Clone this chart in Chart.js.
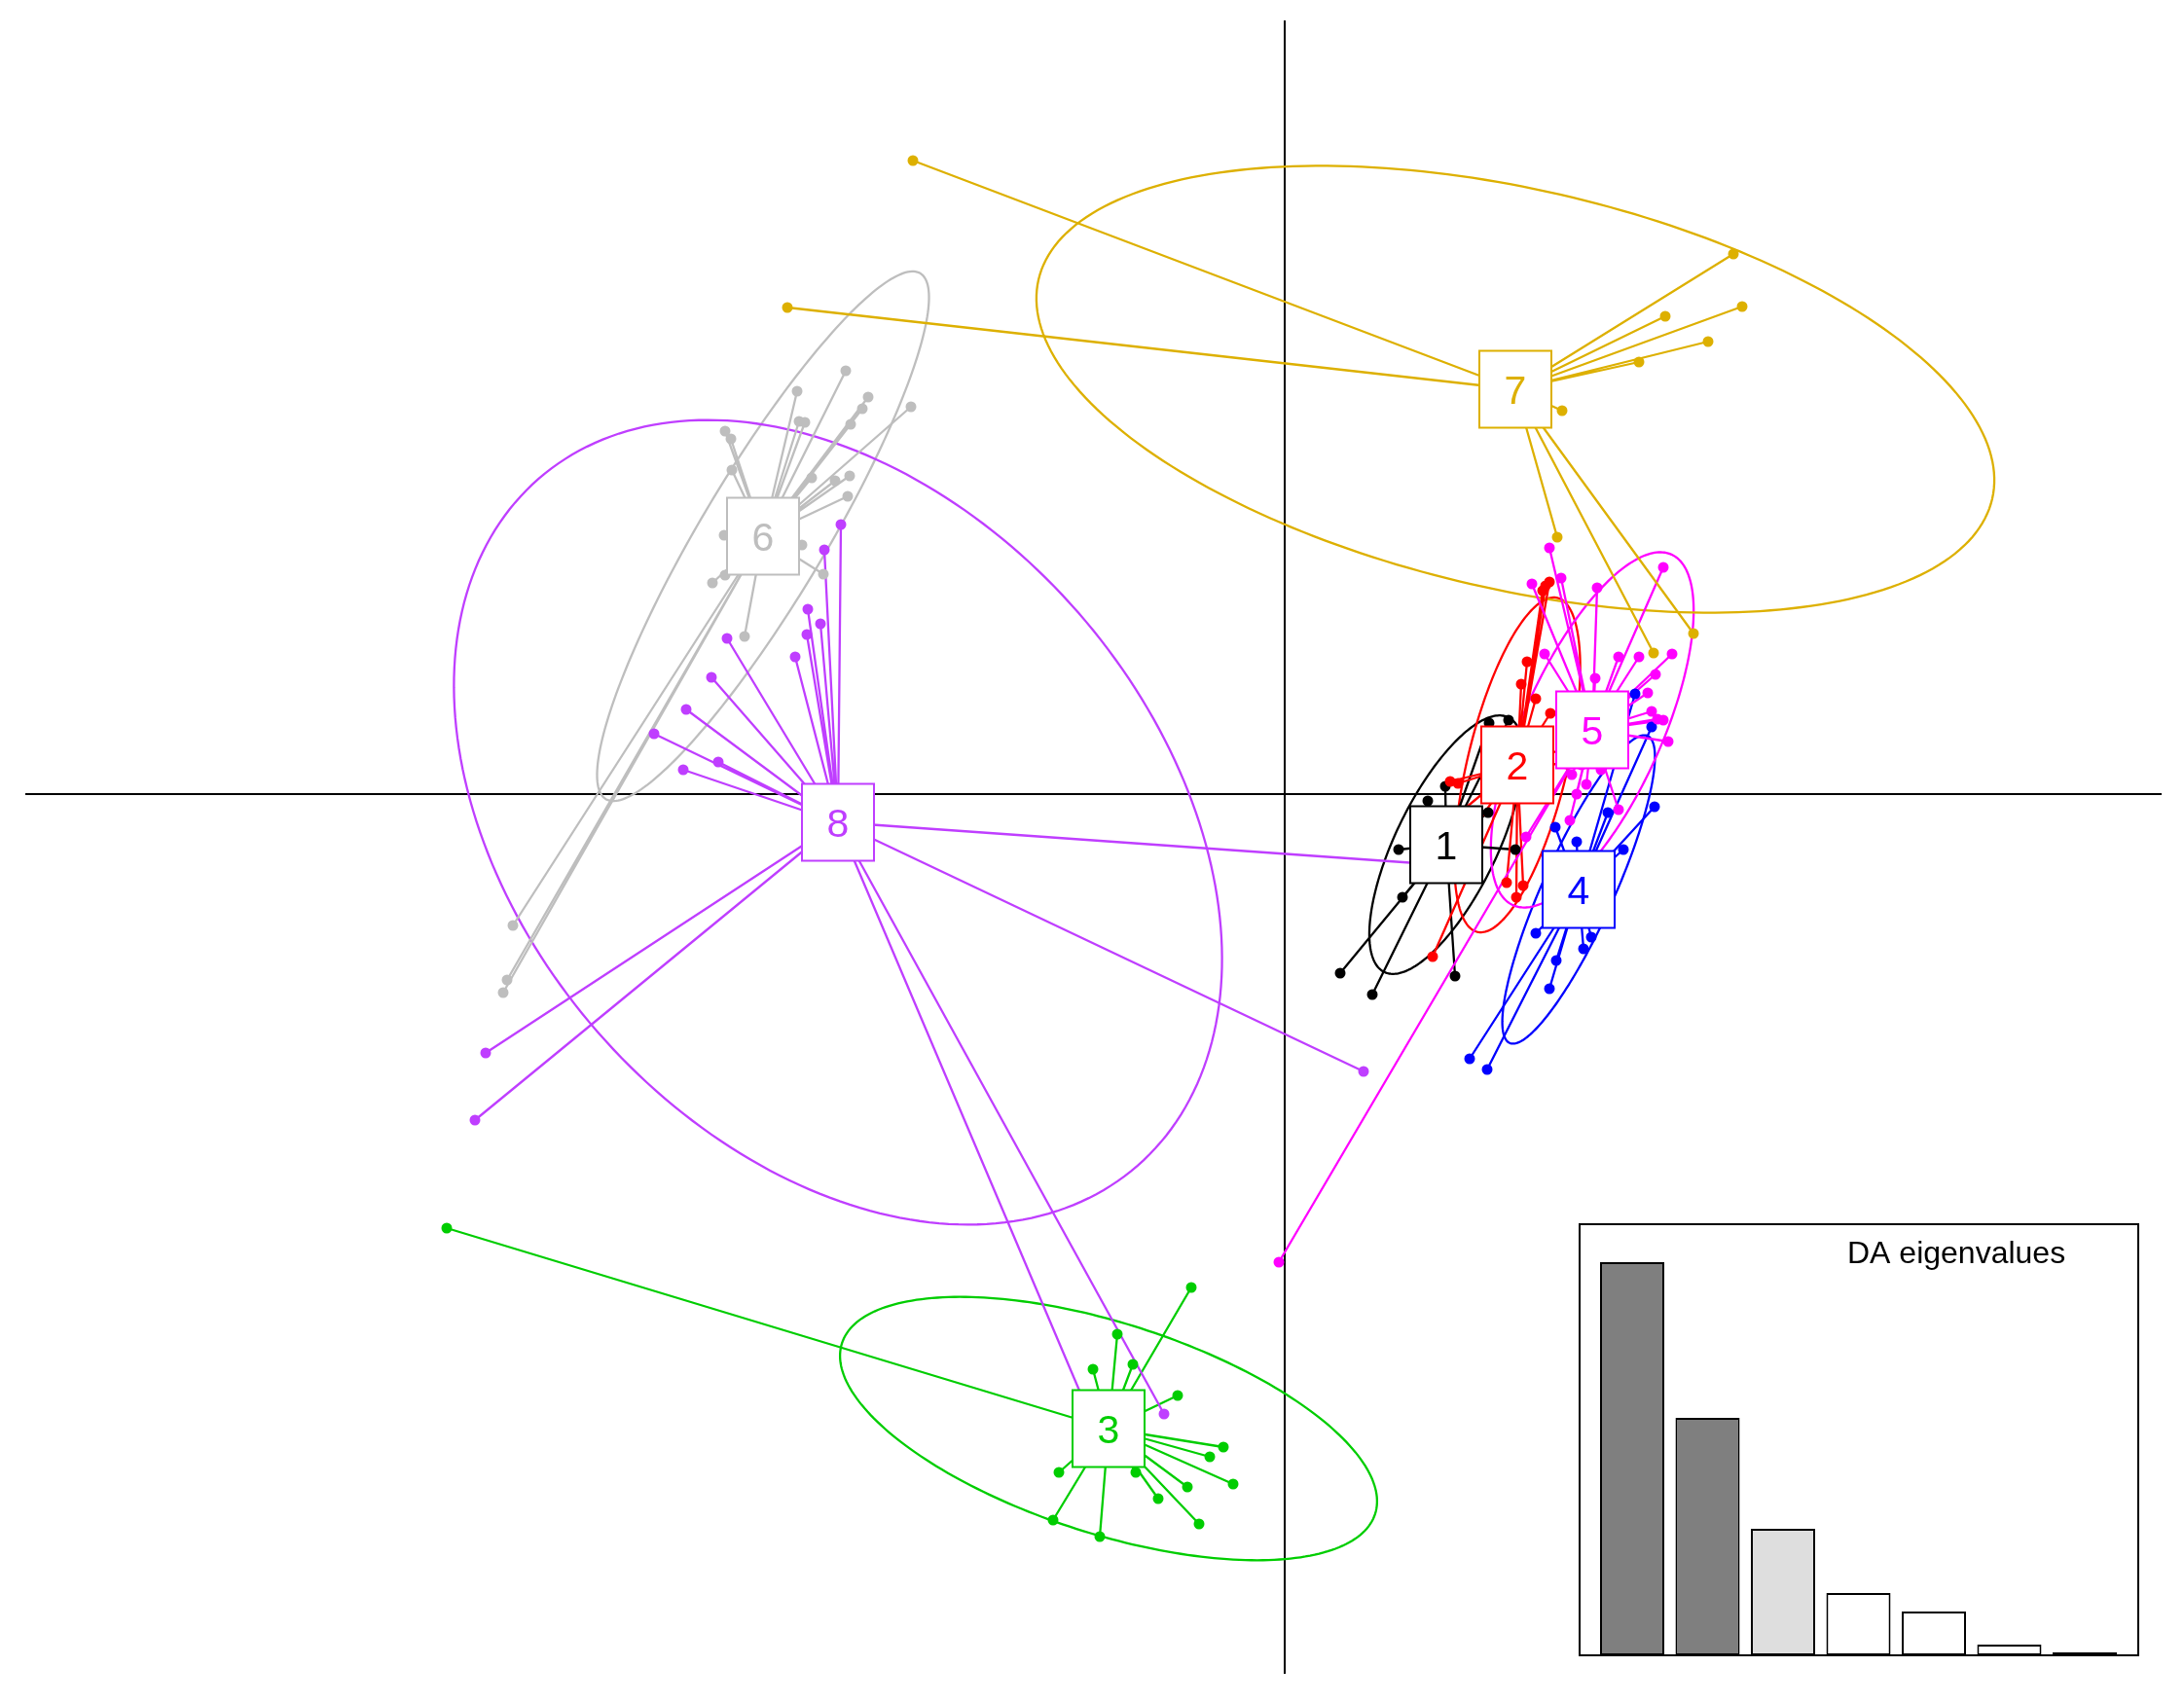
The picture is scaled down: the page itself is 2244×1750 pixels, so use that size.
<!DOCTYPE html>
<html>
<head>
<meta charset="utf-8">
<script src="https://cdn.jsdelivr.net/npm/chart.js@4.4.0/dist/chart.umd.min.js"></script>
<style>
  html, body { margin: 0; padding: 0; background: #ffffff; }
  #wrap { position: relative; width: 2244px; height: 1750px; overflow: hidden; }
  #main { position: absolute; left: 0; top: 0; width: 2244px; height: 1750px; }
  #inset { position: absolute; left: 1622px; top: 1257px; width: 576px; height: 445px; }
</style>
</head>
<body>
<div id="wrap">
  <canvas id="main" width="2244" height="1750"></canvas>
  <canvas id="inset" width="576" height="445"></canvas>
</div>
<script>
// ---------------- DATA ----------------
const groupLabels = ['1', '2', '3', '4', '5', '6', '7', '8'];

// Discriminant functions: LD1 (x) and LD2 (y) per individual, per group
const ld1_g1 = [0.57, 0.90, 1.75, 1.21, 1.17, 2.37, 2.09, 1.47, 2.10, 2.30, 1.65, 1.75, 1.90];
const ld2_g1 = [-1.84, -2.06, -1.87, -1.06, -0.57, -0.57, -0.19, -0.07, 0.73, 0.76, 0.08, -0.29, -0.34];

const ld1_g2 = [2.68, 2.72, 2.65, 2.49, 2.43, 2.58, 2.73, 1.70, 1.78, 1.52, 2.28, 2.38, 2.45, 1.85, 2.85, 1.80, 2.90];
const ld2_g2 = [2.14, 2.18, 2.09, 1.36, 1.13, 0.98, 0.83, 0.13, 0.11, -1.67, -0.91, -1.06, -0.94, -0.49, 0.46, -0.19, 0.31];

const ld1_g3 = [-8.61, -0.96, -1.72, -1.97, -1.56, -1.10, -0.63, -0.77, -0.53, -1.00, -1.53, -1.30, -0.88, -2.32, -2.38, -1.90];
const ld2_g3 = [-4.46, -5.07, -5.55, -5.91, -5.86, -6.18, -6.71, -6.81, -7.09, -7.12, -6.97, -7.24, -7.50, -6.97, -7.46, -7.63];

const ld1_g4 = [3.60, 3.77, 3.80, 3.32, 3.00, 3.48, 2.78, 2.58, 3.15, 3.07, 2.79, 2.72, 1.90, 2.08, 2.95, 3.10];
const ld2_g4 = [1.03, 0.69, -0.13, -0.19, -0.49, -0.57, -0.34, -1.43, -1.47, -1.59, -1.71, -2.00, -2.72, -2.83, -0.89, -1.09];

const ld1_g5 = [2.72, 2.54, 2.84, 3.21, 3.89, 2.67, 3.19, 3.43, 3.64, 3.98, 3.81, 3.73, 3.77, 3.83, 3.89, 3.94, 3.43, 2.93, 2.48, -0.06,
                2.90, 3.05, 3.20, 2.95, 3.10, 3.00, 3.30, 2.85, 3.25, 3.15, 3.10, 3.20, 3.05, 3.25];
const ld2_g5 = [2.53, 2.16, 2.22, 2.12, 2.33, 1.44, 1.19, 1.41, 1.41, 1.44, 1.23, 1.04, 0.85, 0.77, 0.76, 0.54, -0.16, -0.27, -0.44, -4.81,
                0.40, 0.30, 0.45, 0.20, 0.10, 0.00, 0.55, 0.60, 0.25, 0.50, 0.70, 0.62, 0.58, 0.72];

const ld1_g6 = [-4.51, -5.01, -4.28, -3.84, -4.34, -4.99, -4.93, -4.46, -5.75, -5.69, -4.86, -4.47, -4.62, -5.68, -4.49, -5.76, -4.96, -4.74, -5.75, -5.88, -5.55, -7.93, -7.99, -8.03];
const ld2_g6 = [4.35, 4.14, 4.08, 3.98, 3.96, 3.83, 3.82, 3.80, 3.73, 3.65, 3.25, 3.27, 3.22, 3.33, 3.06, 2.66, 2.56, 2.26, 2.25, 2.17, 1.62, -1.35, -1.91, -2.04];

const ld1_g7 = [-3.82, -5.11, 4.61, 4.70, 3.91, 4.35, 3.64, 2.85, 2.80, 3.79, 4.20];
const ld2_g7 = [6.51, 5.00, 5.55, 5.01, 4.91, 4.65, 4.44, 3.94, 2.64, 1.45, 1.65];

const ld1_g8 = [-4.56, -4.73, -4.90, -4.77, -4.91, -5.03, -5.73, -5.89, -6.15, -6.48, -5.82, -6.18, -8.21, -8.32, 0.81, -1.24, 1.50, -2.02];
const ld2_g8 = [2.77, 2.51, 1.90, 1.75, 1.64, 1.41, 1.60, 1.20, 0.87, 0.62, 0.33, 0.25, -2.66, -3.35, -2.85, -6.37, -0.72, -6.34];

// Group centroids (label positions)
const centroidLD1 = [1.66, 2.39, -1.81, 3.02, 3.16, -5.36, 2.37, -4.59];
const centroidLD2 = [-0.52, 0.30, -6.52, -0.98, 0.66, 2.65, 4.16, -0.29];

// Inset: DA eigenvalues
const eigLabels = ['1', '2', '3', '4', '5', '6', '7'];
const daEigenvalues = [40.4, 24.4, 13.0, 6.4, 4.5, 1.1, 0.3];

// ---------------- STYLE ----------------
const groupColors = ['#000000', '#FF0000', '#00CD00', '#0000FF', '#FF00FF', '#BEBEBE', '#DDB000', '#BF3EFF'];
const eigFill = ['#7F7F7F', '#7F7F7F', '#DEDEDE', '#FFFFFF', '#FFFFFF', '#FFFFFF', '#FFFFFF'];
const FONT = '"Liberation Sans", Arial, Helvetica, sans-serif';
const LINE_W = 2.3;

const groupLD1 = [ld1_g1, ld1_g2, ld1_g3, ld1_g4, ld1_g5, ld1_g6, ld1_g7, ld1_g8];
const groupLD2 = [ld2_g1, ld2_g2, ld2_g3, ld2_g4, ld2_g5, ld2_g6, ld2_g7, ld2_g8];

// Covariance ellipse (1.5 sd, like ade4::s.class cellipse = 1.5), in data units
function ellipseOf(xs, ys, cx, cy, k) {
  const n = xs.length;
  let vx = 0, vy = 0, cxy = 0;
  for (let i = 0; i < n; i++) {
    const dx = xs[i] - cx, dy = ys[i] - cy;
    vx += dx * dx; vy += dy * dy; cxy += dx * dy;
  }
  vx /= n; vy /= n; cxy /= n;
  const tr = vx + vy, det = vx * vy - cxy * cxy;
  const disc = Math.sqrt(Math.max(0, tr * tr / 4 - det));
  const l1 = tr / 2 + disc, l2 = Math.max(0, tr / 2 - disc);
  let ux, uy;
  if (Math.abs(cxy) > 1e-12) { ux = cxy; uy = l1 - vx; }
  else if (vx >= vy) { ux = 1; uy = 0; } else { ux = 0; uy = 1; }
  const nrm = Math.hypot(ux, uy); ux /= nrm; uy /= nrm;
  const a = k * Math.sqrt(l1), b = k * Math.sqrt(l2);
  const pts = [];
  for (let j = 0; j <= 240; j++) {
    const t = 2 * Math.PI * j / 240;
    const c = Math.cos(t), s = Math.sin(t);
    pts.push([cx + a * c * ux - b * s * uy, cy + a * c * uy + b * s * ux]);
  }
  return pts;
}

const dapcDeco = {
  id: 'dapcDeco',
  beforeDraw(chart) {
    const ctx = chart.ctx;
    ctx.save();
    ctx.fillStyle = '#ffffff';
    ctx.fillRect(0, 0, chart.width, chart.height);
    ctx.restore();
  },
  beforeDatasetsDraw(chart) {
    const { ctx, chartArea: a, scales: { x, y } } = chart;
    ctx.save();
    // axes through the origin
    ctx.strokeStyle = '#000000';
    ctx.lineWidth = 2;
    const x0 = x.getPixelForValue(0), y0 = y.getPixelForValue(0);
    ctx.beginPath();
    ctx.moveTo(a.left, y0); ctx.lineTo(a.right, y0);
    ctx.moveTo(x0, a.top); ctx.lineTo(x0, a.bottom);
    ctx.stroke();
    // ellipses
    ctx.lineWidth = LINE_W;
    for (let g = 0; g < groupLD1.length; g++) {
      const pts = ellipseOf(groupLD1[g], groupLD2[g], centroidLD1[g], centroidLD2[g], 1.5);
      ctx.strokeStyle = groupColors[g];
      ctx.beginPath();
      pts.forEach((p, i) => {
        const px = x.getPixelForValue(p[0]), py = y.getPixelForValue(p[1]);
        if (i === 0) ctx.moveTo(px, py); else ctx.lineTo(px, py);
      });
      ctx.closePath();
      ctx.stroke();
    }
    // stars: centroid -> each individual
    ctx.lineWidth = LINE_W;
    for (let g = 0; g < groupLD1.length; g++) {
      ctx.strokeStyle = groupColors[g];
      const cx = x.getPixelForValue(centroidLD1[g]), cy = y.getPixelForValue(centroidLD2[g]);
      ctx.beginPath();
      for (let i = 0; i < groupLD1[g].length; i++) {
        ctx.moveTo(cx, cy);
        ctx.lineTo(x.getPixelForValue(groupLD1[g][i]), y.getPixelForValue(groupLD2[g][i]));
      }
      ctx.stroke();
    }
    ctx.restore();
  },
  afterDatasetsDraw(chart) {
    const { ctx, scales: { x, y } } = chart;
    ctx.save();
    const bw = 74, bh = 79;
    for (let g = 0; g < groupLabels.length; g++) {
      const cx = x.getPixelForValue(centroidLD1[g]), cy = y.getPixelForValue(centroidLD2[g]);
      ctx.fillStyle = '#ffffff';
      ctx.fillRect(cx - bw / 2, cy - bh / 2, bw, bh);
      ctx.strokeStyle = groupColors[g];
      ctx.lineWidth = 2;
      ctx.strokeRect(cx - bw / 2, cy - bh / 2, bw, bh);
      ctx.fillStyle = groupColors[g];
      ctx.font = '41px ' + FONT;
      ctx.textAlign = 'center';
      ctx.textBaseline = 'alphabetic';
      ctx.fillText(groupLabels[g], cx, cy + 15);
    }
    ctx.restore();
  }
};

new Chart(document.getElementById('main'), {
  type: 'scatter',
  data: {
    datasets: groupLabels.map((lab, g) => ({
      label: lab,
      data: groupLD1[g].map((v, i) => ({ x: v, y: groupLD2[g][i] })),
      backgroundColor: groupColors[g],
      borderColor: groupColors[g],
      borderWidth: 0,
      pointRadius: 5.5,
      pointHoverRadius: 5.5
    })).reverse()
  },
  options: {
    responsive: false,
    animation: false,
    devicePixelRatio: 1,
    layout: { padding: { left: 26, top: 21, right: 23, bottom: 30 } },
    scales: {
      x: { type: 'linear', min: -12.94, max: 9.01, display: false },
      y: { type: 'linear', min: -9.04, max: 7.95, display: false }
    },
    plugins: { legend: { display: false }, tooltip: { enabled: false } },
    events: []
  },
  plugins: [dapcDeco]
});

const insetDeco = {
  id: 'insetDeco',
  beforeDraw(chart) {
    const ctx = chart.ctx;
    ctx.save();
    ctx.fillStyle = '#ffffff';
    ctx.fillRect(0, 0, chart.width, chart.height);
    ctx.restore();
  },
  afterDraw(chart) {
    const ctx = chart.ctx;
    ctx.save();
    ctx.strokeStyle = '#000000';
    ctx.lineWidth = 2;
    ctx.strokeRect(1, 1, 574, 443);
    ctx.fillStyle = '#000000';
    ctx.font = '32px ' + FONT;
    ctx.textAlign = 'left';
    ctx.textBaseline = 'alphabetic';
    ctx.fillText('DA eigenvalues', 276, 41);
    ctx.restore();
  }
};

new Chart(document.getElementById('inset'), {
  type: 'bar',
  data: {
    labels: eigLabels,
    datasets: [{
      data: daEigenvalues,
      backgroundColor: eigFill,
      borderColor: '#000000',
      borderWidth: 2,
      borderSkipped: false,
      barPercentage: 0.852,
      categoryPercentage: 1
    }]
  },
  options: {
    responsive: false,
    animation: false,
    devicePixelRatio: 1,
    layout: { padding: { left: 16.25, right: 17.25, top: 0, bottom: 1 } },
    scales: {
      x: { display: false },
      y: { display: false, min: 0, max: 44.4 }
    },
    plugins: { legend: { display: false }, tooltip: { enabled: false } },
    events: []
  },
  plugins: [insetDeco]
});
</script>
</body>
</html>
